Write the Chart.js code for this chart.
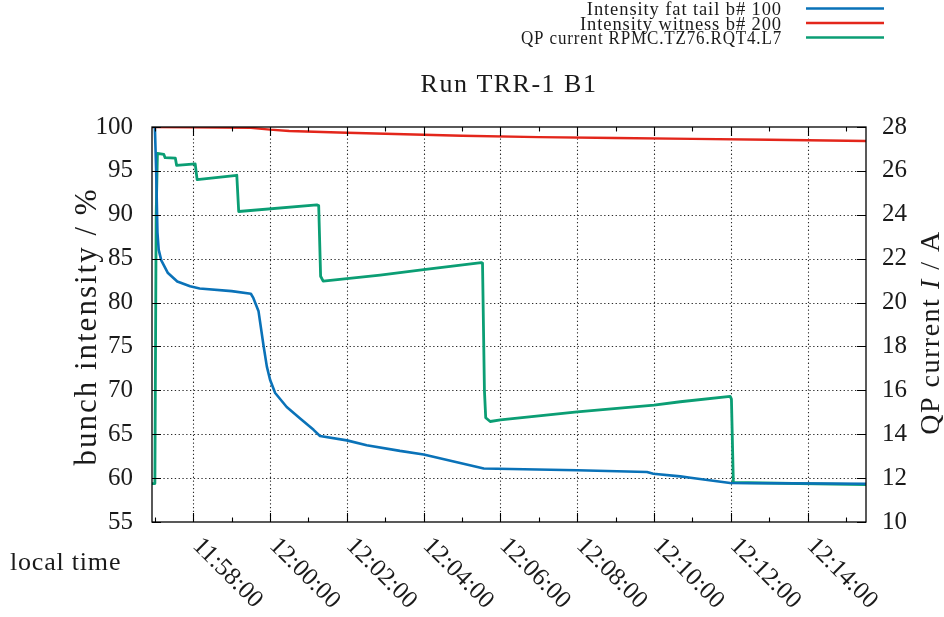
<!DOCTYPE html>
<html>
<head>
<meta charset="utf-8">
<title>Run TRR-1 B1</title>
<script src="https://cdn.jsdelivr.net/npm/chart.js@4.4.1/dist/chart.umd.min.js"></script>
<style>
  html, body { margin: 0; padding: 0; background: #fff; }
  canvas { display: block; }
</style>
</head>
<body>
<canvas id="chart" width="944" height="617"></canvas>
<script>
// Bunch intensity of the fat-tail bunch (b# 100), percent of initial
const fatTailTimes = [
  '11:57:00', '11:57:02', '11:57:04', '11:57:06', '11:57:10', '11:57:20', '11:57:35',
  '11:57:55', '11:58:10', '11:59:00', '11:59:30', '11:59:34', '11:59:42', '11:59:50',
  '11:59:55', '12:00:00', '12:00:08', '12:00:26', '12:00:47', '12:01:08', '12:01:18',
  '12:02:00', '12:02:31', '12:03:23', '12:04:00', '12:05:34', '12:08:00', '12:09:49',
  '12:09:59', '12:10:41', '12:10:57', '12:11:59', '12:15:32'
];
const fatTailValues = [
  100.0, 95.0, 88.0, 86.0, 84.8, 83.4, 82.4,
  81.85, 81.6, 81.3, 81.0, 80.5, 79.0, 75.0,
  72.7, 71.2, 69.7, 68.1, 66.8, 65.5, 64.8,
  64.3, 63.75, 63.1, 62.7, 61.1, 60.9, 60.7,
  60.5, 60.2, 60.05, 59.45, 59.35
];

// Bunch intensity of the witness bunch (b# 200), percent of initial
const witnessTimes = [
  '11:56:56', '11:58:00', '11:59:30', '12:00:00', '12:00:30', '12:02:00', '12:03:00',
  '12:05:00', '12:07:00', '12:09:00', '12:11:00', '12:13:00', '12:15:32'
];
const witnessValues = [
  100.0, 99.98, 99.9, 99.7, 99.55, 99.35, 99.23,
  99.0, 98.85, 98.75, 98.65, 98.55, 98.4
];

// Current of the excited quadrupole circuit RPMC.TZ76.RQT4.L7, in A
const qpTimes = [
  '11:56:56', '11:57:00', '11:57:02', '11:57:04', '11:57:14', '11:57:16', '11:57:32',
  '11:57:34', '11:58:03', '11:58:06', '11:59:08', '11:59:11', '12:01:13', '12:01:16',
  '12:01:19', '12:01:23', '12:02:52', '12:04:00', '12:05:30', '12:05:32', '12:05:35',
  '12:05:37', '12:05:44', '12:06:00', '12:08:00', '12:10:00', '12:10:41', '12:11:59',
  '12:12:01', '12:12:04', '12:15:32'
];
const qpValues = [
  11.75, 11.75, 24.0, 26.8, 26.75, 26.6, 26.58,
  26.25, 26.32, 25.6, 25.8, 24.15, 24.45, 24.42,
  21.2, 20.98, 21.25, 21.5, 21.82, 21.8, 16.0,
  14.75, 14.58, 14.65, 15.02, 15.33, 15.48, 15.72,
  15.6, 11.8, 11.7
];

// Axis ticks
const timeTickLabels = [
  '11:58:00', '12:00:00', '12:02:00', '12:04:00', '12:06:00',
  '12:08:00', '12:10:00', '12:12:00', '12:14:00'
];
const timeRange = ['11:56:55.5', '12:15:31.3'];
const intensityRange = [55, 100];
const intensityStep = 5;
const currentRange = [10, 28];
const currentStep = 2;

const seriesLabels = [
  'Intensity fat tail b# 100',
  'Intensity witness b# 200',
  'QP current RPMC.TZ76.RQT4.L7'
];

function toSec(t) {
  const p = t.split(':').map(Number);
  return p[0] * 3600 + p[1] * 60 + p[2];
}
function pairs(times, values) {
  return times.map((t, i) => ({ x: toSec(t), y: values[i] }));
}

const SERIF = "'Liberation Serif', 'Times New Roman', serif";
const INK = '#1a1a1a';
const tickSecs = timeTickLabels.map(toSec);

function spaced(ctx, px) {
  if ('letterSpacing' in ctx) ctx.letterSpacing = px + 'px';
}

// Dotted grid drawn as short dashes, behind the curves
function drawDotted(ctx, x1, y1, x2, y2) {
  const len = Math.hypot(x2 - x1, y2 - y1);
  const step = 3.8, dot = 1.3;
  const ux = (x2 - x1) / len, uy = (y2 - y1) / len;
  for (let s = 0; s < len; s += step) {
    const e = Math.min(s + dot, len);
    ctx.moveTo(x1 + ux * s, y1 + uy * s);
    ctx.lineTo(x1 + ux * e, y1 + uy * e);
  }
}

const dottedGrid = {
  id: 'dottedGrid',
  beforeDatasetsDraw(chart) {
    const ctx = chart.ctx;
    const a = chart.chartArea;
    const xs = chart.scales.x, yl = chart.scales.y;
    ctx.save();
    ctx.strokeStyle = '#2a2a2a';
    ctx.lineWidth = 1.1;
    ctx.lineCap = 'butt';
    ctx.beginPath();
    tickSecs.forEach(v => {
      const px = Math.round(xs.getPixelForValue(v)) + 0.5;
      drawDotted(ctx, px, a.top, px, a.bottom);
    });
    for (let v = intensityRange[0] + intensityStep; v < intensityRange[1]; v += intensityStep) {
      const py = Math.round(yl.getPixelForValue(v)) + 0.5;
      drawDotted(ctx, a.left, py, a.right, py);
    }
    ctx.stroke();
    ctx.restore();
  }
};

// Frame, inward tick marks, rotated time labels, titles and key
const decorations = {
  id: 'decorations',
  afterDraw(chart) {
    const ctx = chart.ctx;
    const a = chart.chartArea;
    const xs = chart.scales.x, yl = chart.scales.y, yr = chart.scales.y2;
    ctx.save();

    // plot frame
    ctx.strokeStyle = '#000';
    ctx.lineWidth = 1.3;
    ctx.strokeRect(a.left, a.top, a.right - a.left, a.bottom - a.top);

    // tick marks pointing into the plot
    ctx.lineWidth = 1.1;
    ctx.beginPath();
    const major = 9, minor = 4.5;
    tickSecs.forEach(v => {
      const px = Math.round(xs.getPixelForValue(v)) + 0.5;
      ctx.moveTo(px, a.bottom); ctx.lineTo(px, a.bottom - major);
      ctx.moveTo(px, a.top); ctx.lineTo(px, a.top + major);
    });
    for (let v = tickSecs[0] - 60; v <= xs.max; v += 120) {
      if (v < xs.min) continue;
      const px = Math.round(xs.getPixelForValue(v)) + 0.5;
      ctx.moveTo(px, a.bottom); ctx.lineTo(px, a.bottom - minor);
      ctx.moveTo(px, a.top); ctx.lineTo(px, a.top + minor);
    }
    yl.ticks.forEach(t => {
      const py = Math.round(yl.getPixelForValue(t.value)) + 0.5;
      ctx.moveTo(a.left, py); ctx.lineTo(a.left + major, py);
    });
    yr.ticks.forEach(t => {
      const py = Math.round(yr.getPixelForValue(t.value)) + 0.5;
      ctx.moveTo(a.right, py); ctx.lineTo(a.right - major, py);
    });
    ctx.stroke();

    // rotated time labels
    ctx.fillStyle = INK;
    ctx.font = '25px ' + SERIF;
    ctx.textAlign = 'left';
    ctx.textBaseline = 'middle';
    tickSecs.forEach((v, i) => {
      const px = xs.getPixelForValue(v);
      ctx.save();
      ctx.translate(px + 3, a.bottom + 20);
      ctx.rotate(Math.PI / 4);
      ctx.fillText(timeTickLabels[i], 0, 0);
      ctx.restore();
    });

    // x axis name
    ctx.font = '26px ' + SERIF;
    ctx.textBaseline = 'alphabetic';
    spaced(ctx, 0.8);
    ctx.fillText('local time', 10, 570);

    // title
    ctx.textAlign = 'center';
    ctx.font = '26px ' + SERIF;
    spaced(ctx, 1.5);
    ctx.fillText('Run TRR-1 B1', 509, 92);

    // left axis name
    const midY = (a.top + a.bottom) / 2;
    ctx.save();
    ctx.translate(96, midY + 2);
    ctx.rotate(-Math.PI / 2);
    ctx.textAlign = 'center';
    ctx.font = '31px ' + SERIF;
    spaced(ctx, 2);
    ctx.fillText('bunch intensity / %', 0, 0);
    ctx.restore();

    // right axis name with italic symbol
    ctx.save();
    ctx.translate(939, midY + 8);
    ctx.rotate(-Math.PI / 2);
    ctx.textAlign = 'left';
    spaced(ctx, 1.5);
    const parts = [['QP current ', ''], ['I', 'italic '], [' / A', '']];
    let total = 0;
    parts.forEach(p => { ctx.font = p[1] + '28px ' + SERIF; total += ctx.measureText(p[0]).width; });
    let cx = -total / 2;
    parts.forEach(p => {
      ctx.font = p[1] + '28px ' + SERIF;
      ctx.fillText(p[0], cx, 0);
      cx += ctx.measureText(p[0]).width;
    });
    ctx.restore();

    // key
    ctx.font = '18.5px ' + SERIF;
    spaced(ctx, 0.9);
    ctx.textAlign = 'right';
    ctx.textBaseline = 'middle';
    chart.data.datasets.forEach((ds, i) => {
      const y = 8.5 + i * 14.5;
      ctx.fillStyle = INK;
      ctx.fillText(ds.label, 782, y + 2, 261);
      ctx.strokeStyle = ds.borderColor;
      ctx.lineWidth = 2.4;
      ctx.beginPath();
      ctx.moveTo(806, y);
      ctx.lineTo(884, y);
      ctx.stroke();
    });
    spaced(ctx, 0);

    ctx.restore();
  }
};

new Chart(document.getElementById('chart'), {
  type: 'line',
  data: {
    datasets: [
      { label: seriesLabels[0], data: pairs(fatTailTimes, fatTailValues), borderColor: '#0a72b8', borderWidth: 2.6, yAxisID: 'y' },
      { label: seriesLabels[1], data: pairs(witnessTimes, witnessValues), borderColor: '#e3261b', borderWidth: 2.4, yAxisID: 'y' },
      { label: seriesLabels[2], data: pairs(qpTimes, qpValues), borderColor: '#0b9e74', borderWidth: 2.8, yAxisID: 'y2' }
    ]
  },
  options: {
    responsive: false,
    animation: false,
    events: [],
    elements: {
      point: { radius: 0 },
      line: { tension: 0, borderJoinStyle: 'round', borderCapStyle: 'round' }
    },
    layout: { padding: { top: 127, left: 0, right: 0, bottom: 0 } },
    plugins: { legend: { display: false }, title: { display: false }, tooltip: { enabled: false } },
    scales: {
      x: {
        type: 'linear',
        min: toSec(timeRange[0]),
        max: toSec(timeRange[1]),
        afterBuildTicks: s => { s.ticks = tickSecs.map(v => ({ value: v })); },
        ticks: { display: false },
        grid: { display: false, drawTicks: false },
        border: { display: false },
        afterFit: s => { s.height = 95; }
      },
      y: {
        position: 'left',
        min: intensityRange[0],
        max: intensityRange[1],
        ticks: { stepSize: intensityStep, padding: 19, color: INK, font: { family: SERIF, size: 25 } },
        grid: { display: false, drawTicks: false },
        border: { display: false },
        afterFit: s => { s.width = 152; }
      },
      y2: {
        position: 'right',
        min: currentRange[0],
        max: currentRange[1],
        ticks: { stepSize: currentStep, padding: 16, color: INK, font: { family: SERIF, size: 25 } },
        grid: { display: false, drawTicks: false },
        border: { display: false },
        afterFit: s => { s.width = 78; }
      }
    }
  },
  plugins: [dottedGrid, decorations]
});
</script>
</body>
</html>
